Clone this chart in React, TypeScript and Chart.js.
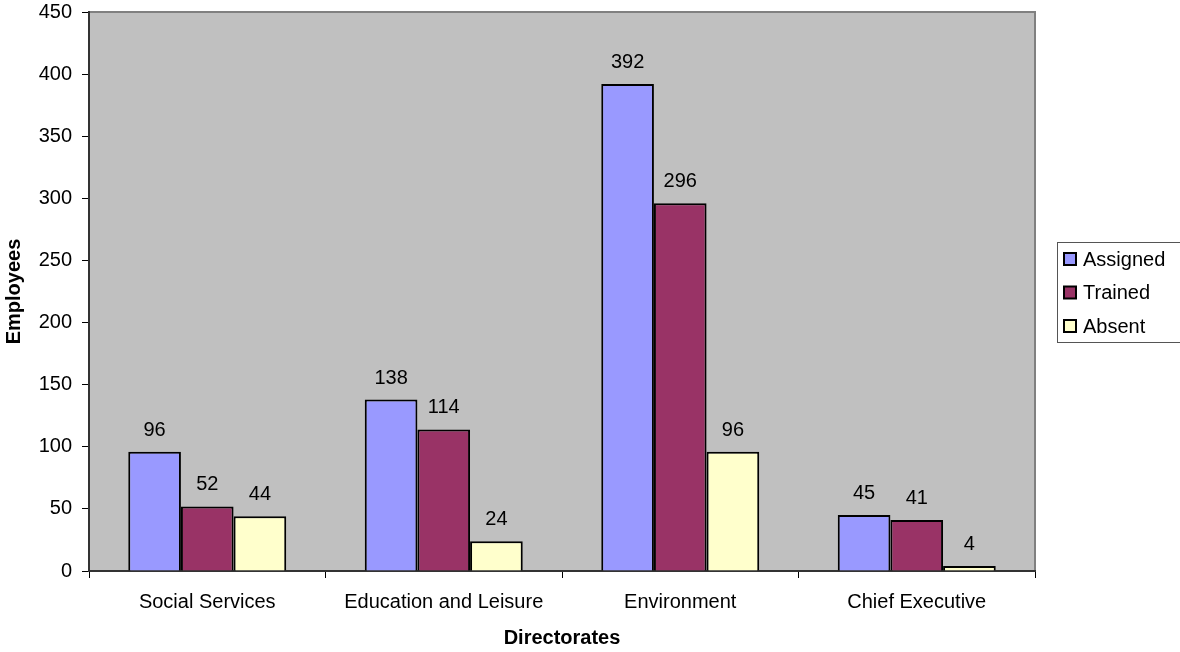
import React, { useEffect, useRef } from "react";
import { Chart, registerables } from "chart.js";

Chart.register(...registerables);

const categories = ["Social Services", "Education and Leisure", "Environment", "Chief Executive"];
const assigned = [96, 138, 392, 45];
const trained = [52, 114, 296, 41];
const absent = [44, 24, 96, 4];
const seriesNames = ["Assigned", "Trained", "Absent"];
const seriesColors = ["#9999FF", "#993366", "#FFFFCC"];
const yTitle = "Employees";
const xTitle = "Directorates";

const FONT = "'Liberation Sans', Arial, sans-serif";

const decorPlugin = {
  id: "decor",
  beforeDraw(chart: any) {
    const { ctx, chartArea: a } = chart;
    ctx.save();
    ctx.fillStyle = "#C0C0C0";
    ctx.fillRect(a.left, a.top, a.right - a.left, a.bottom - a.top);
    ctx.strokeStyle = "#808080";
    ctx.lineWidth = 2;
    ctx.beginPath();
    ctx.moveTo(a.left, a.top);
    ctx.lineTo(a.right, a.top);
    ctx.lineTo(a.right, a.bottom);
    ctx.stroke();
    ctx.restore();
  },
  afterDraw(chart: any) {
    const { ctx, chartArea: a } = chart;
    ctx.save();
    // data labels
    ctx.fillStyle = "#000";
    ctx.font = `20px ${FONT}`;
    ctx.textAlign = "center";
    ctx.textBaseline = "alphabetic";
    chart.data.datasets.forEach((ds: any, i: number) => {
      const meta = chart.getDatasetMeta(i);
      meta.data.forEach((bar: any, j: number) => {
        ctx.fillText(String(ds.data[j]), bar.x, bar.y - 16);
      });
    });
    // axis titles
    ctx.font = `bold 20px ${FONT}`;
    ctx.textBaseline = "middle";
    ctx.fillText(xTitle, (a.left + a.right) / 2, 638);
    ctx.save();
    ctx.translate(14, (a.top + a.bottom) / 2);
    ctx.rotate(-Math.PI / 2);
    ctx.fillText(yTitle, 0, 0);
    ctx.restore();
    // legend
    const lx = 1057, ly = 242, lw = 130, lh = 100;
    ctx.fillStyle = "#FFFFFF";
    ctx.fillRect(lx, ly, lw, lh);
    ctx.strokeStyle = "#555";
    ctx.lineWidth = 1;
    ctx.strokeRect(lx + 0.5, ly + 0.5, lw, lh);
    ctx.font = `20px ${FONT}`;
    ctx.textAlign = "left";
    seriesNames.forEach((name, i) => {
      const cy = 259 + i * 33.5;
      ctx.fillStyle = seriesColors[i];
      ctx.fillRect(1064, cy - 6, 12, 12);
      ctx.strokeStyle = "#000";
      ctx.lineWidth = 2;
      ctx.strokeRect(1064, cy - 6, 12, 12);
      ctx.fillStyle = "#000";
      ctx.fillText(name, 1083, cy + 1);
    });
    ctx.restore();
  },
};

export default function App() {
  const ref = useRef<HTMLCanvasElement>(null);
  useEffect(() => {
    document.body.style.margin = "0";
    const chart = new Chart(ref.current!, {
      type: "bar",
      data: {
        labels: categories,
        datasets: [assigned, trained, absent].map((d, i) => ({
          label: seriesNames[i],
          data: d,
          backgroundColor: seriesColors[i],
          borderColor: "#000",
          borderWidth: 2,
          categoryPercentage: 0.668,
          barPercentage: 1,
        })),
      },
      options: {
        animation: false,
        responsive: false,
        maintainAspectRatio: false,
        layout: { padding: { top: 12, right: 145, left: 0, bottom: 0 } },
        plugins: { legend: { display: false }, tooltip: { enabled: false } },
        scales: {
          x: {
            afterFit: (s: any) => { s.height = 81; s.paddingLeft = 0; s.paddingRight = 0; },
            grid: { offset: true, drawOnChartArea: false, drawTicks: true, tickLength: 7, color: "#000", lineWidth: 1 },
            border: { display: true, color: "#333", width: 2 },
            ticks: { color: "#000", font: { family: FONT, size: 20 }, padding: 12, maxRotation: 0 },
          },
          y: {
            min: 0,
            max: 450,
            afterFit: (s: any) => { s.width = 89; s.paddingTop = 0; s.paddingBottom = 0; },
            grid: { drawOnChartArea: false, drawTicks: true, tickLength: 7, color: "#000", lineWidth: 1 },
            border: { display: true, color: "#333", width: 2 },
            ticks: { stepSize: 50, color: "#000", font: { family: FONT, size: 20 }, padding: 10 },
          },
        },
      },
      plugins: [decorPlugin],
    });
    return () => chart.destroy();
  }, []);
  return (
    <div style={{ position: "absolute", left: 0, top: 0, width: 1180, height: 652 }}>
      <canvas ref={ref} width={1180} height={652} style={{ width: 1180, height: 652 }} />
    </div>
  );
}
